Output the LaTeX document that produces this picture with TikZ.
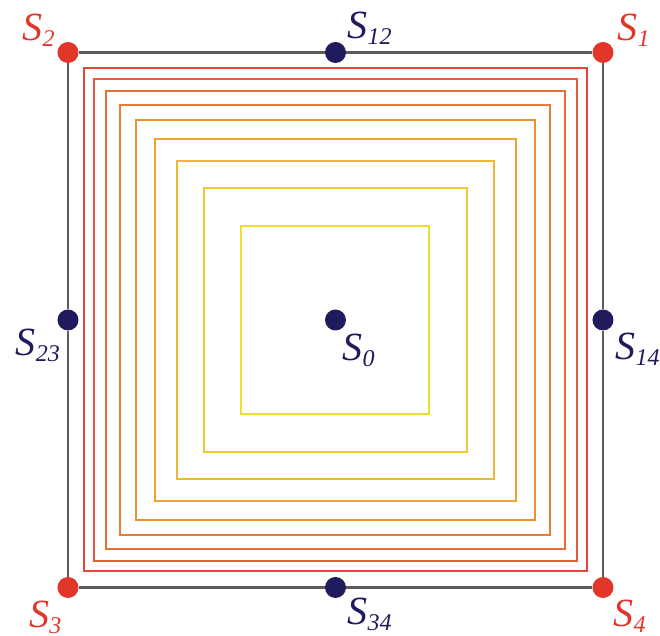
\documentclass[tikz,border=0pt]{standalone}
\usepackage{fontspec}
\setmainfont{Liberation Serif}
\usetikzlibrary{positioning}
\definecolor{DotRed}{HTML}{E2362B}
\definecolor{DotNavy}{HTML}{1F1B5C}
\definecolor{FrameGray}{HTML}{5C5C5C}
\definecolor{IsoRed}{HTML}{E2473B}
\definecolor{IsoYellow}{HTML}{F2DC2E}
\newcommand{\slab}[1]{\textit{S}\raisebox{-3pt}{\fontsize{12}{14}\selectfont\itshape #1}}

\begin{document}
\begin{tikzpicture}[x=0.5pt, y=0.5pt,
  dot/.style={circle, fill=DotNavy, inner sep=0pt, minimum size=10.5pt},
  corner/.style={dot, fill=DotRed},
  lab/.style={font=\fontsize{20}{24}\selectfont, text=DotNavy, inner sep=0pt},
  cornerlab/.style={lab, text=DotRed},
  frame/.style={draw=FrameGray, line width=1.2pt},
  iso/.style={line width=1pt}
]
  \useasboundingbox (-335.5,-316) rectangle (324.5,320);

  % level lines, outer (red) to inner (yellow)
  \foreach \r [count=\i from 0] in {251.5,241.3,229.2,215,199.8,180.6,158.8,131.8,94}{
    \pgfmathtruncatemacro{\p}{\i*12.5}
    \draw[iso, draw=IsoYellow!\p!IsoRed] (-\r,-\r) rectangle (\r,\r);
  }

  % sensors
  \node[corner] (s1) at (267.5,267.5) {};
  \node[corner] (s2) at (-267.5,267.5) {};
  \node[corner] (s3) at (-267.5,-267.5) {};
  \node[corner] (s4) at (267.5,-267.5) {};
  \node[dot] (s12) at (0,267.5) {};
  \node[dot] (s23) at (-267.5,0) {};
  \node[dot] (s34) at (0,-267.5) {};
  \node[dot] (s14) at (267.5,0) {};
  \node[dot] (s0) at (0,0) {};

  \draw[frame] (s1) -- (s12) -- (s2) -- (s23) -- (s3) -- (s34) -- (s4) -- (s14) -- (s1);

  % labels
  \node[cornerlab, above left=-1pt and 2.6pt of s2] (l2) {\slab{2}};
  \node[cornerlab, above right=-1pt and 3.3pt of s1] (l1) {\slab{1}};
  \node[cornerlab, below left=2.8pt and -0.8pt of s3] (l3) {\slab{3}};
  \node[cornerlab, below right=2.2pt and 1.3pt of s4] (l4) {\slab{4}};
  \node[lab, above right=0pt and 2pt of s12] (l12) {\slab{12}};
  \node[lab, below left=0.3pt and 0pt of s23] (l23) {\slab{23}};
  \node[lab, below right=1.3pt and 2pt of s34] (l34) {\slab{34}};
  \node[lab, below right=2.3pt and 2.3pt of s14] (l14) {\slab{14}};
  \node[lab, below right=2.8pt and -0.5pt of s0] (l0) {\slab{0}};
\end{tikzpicture}
\end{document}
